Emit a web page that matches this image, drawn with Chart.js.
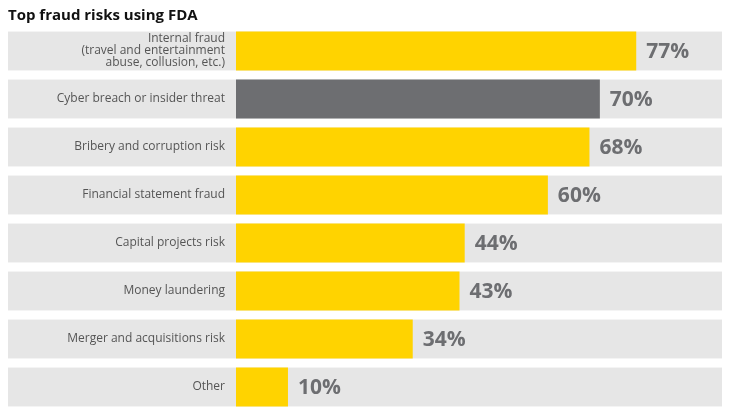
<!DOCTYPE html>
<html lang="en">
<head>
    <meta charset="UTF-8">
    <title>Top fraud risks using FDA</title>
    <script src="https://cdn.jsdelivr.net/npm/chart.js"></script>
    <style>
        html, body { margin: 0; padding: 0; background: #fff; overflow: hidden; }
        canvas { display: block; }
    </style>
</head>
<body>
    <canvas id="chartFraude" width="731" height="416"></canvas>
    <script>
        // Données
        const categories = [
            ['Internal fraud', '(travel and entertainment', 'abuse, collusion, etc.)'],
            'Cyber breach or insider threat',
            'Bribery and corruption risk',
            'Financial statement fraud',
            'Capital projects risk',
            'Money laundering',
            'Merger and acquisitions risk',
            'Other'
        ];
        const valeurs = [77, 70, 68, 60, 44, 43, 34, 10];
        const couleurs = ['#FFD300', '#6D6E71', '#FFD300', '#FFD300', '#FFD300', '#FFD300', '#FFD300', '#FFD300'];
        const titre = 'Top fraud risks using FDA';

        // Fond gris de chaque ligne, titre et étiquettes de valeurs
        const decorPlugin = {
            id: 'decor',
            beforeDraw(chart) {
                const ctx = chart.ctx;
                const meta = chart.getDatasetMeta(0);
                ctx.save();
                ctx.fillStyle = '#E6E6E6';
                meta.data.forEach(bar => {
                    const h = bar.height;
                    ctx.fillRect(8, bar.y - h / 2, chart.chartArea.right - 8, h);
                });
                ctx.restore();
            },
            afterDatasetsDraw(chart) {
                const ctx = chart.ctx;
                const meta = chart.getDatasetMeta(0);
                ctx.save();
                ctx.fillStyle = '#6D6E71';
                ctx.font = 'bold 21px "Open Sans"';
                ctx.textAlign = 'left';
                ctx.textBaseline = 'middle';
                meta.data.forEach((bar, i) => {
                    ctx.fillText(valeurs[i] + '%', bar.x + 10, bar.y + 1);
                });
                ctx.fillStyle = '#111';
                ctx.font = 'bold 15px "Open Sans"';
                ctx.textBaseline = 'alphabetic';
                ctx.fillText(titre, 8, 20);
                ctx.restore();
            }
        };

        const ctx = document.getElementById('chartFraude').getContext('2d');
        new Chart(ctx, {
            type: 'bar',
            data: {
                labels: categories,
                datasets: [{
                    data: valeurs,
                    backgroundColor: couleurs,
                    borderWidth: 0,
                    barPercentage: 0.81,
                    categoryPercentage: 1
                }]
            },
            options: {
                indexAxis: 'y',
                responsive: false,
                animation: false,
                layout: { padding: { left: 8, right: 9, top: 27, bottom: 5 } },
                plugins: {
                    legend: { display: false },
                    tooltip: { enabled: false }
                },
                scales: {
                    x: {
                        display: false,
                        min: 0,
                        max: 93.5
                    },
                    y: {
                        grid: { display: false },
                        border: { display: false },
                        afterFit(scale) {
                            scale.width = 228;
                            scale.paddingTop = 0;
                            scale.paddingBottom = 0;
                        },
                        ticks: {
                            padding: 3,
                            color: '#555',
                            autoSkip: false,
                            font: { family: '"Open Sans"', size: 12, lineHeight: 1.0 }
                        }
                    }
                }
            },
            plugins: [decorPlugin]
        });
    </script>
</body>
</html>
